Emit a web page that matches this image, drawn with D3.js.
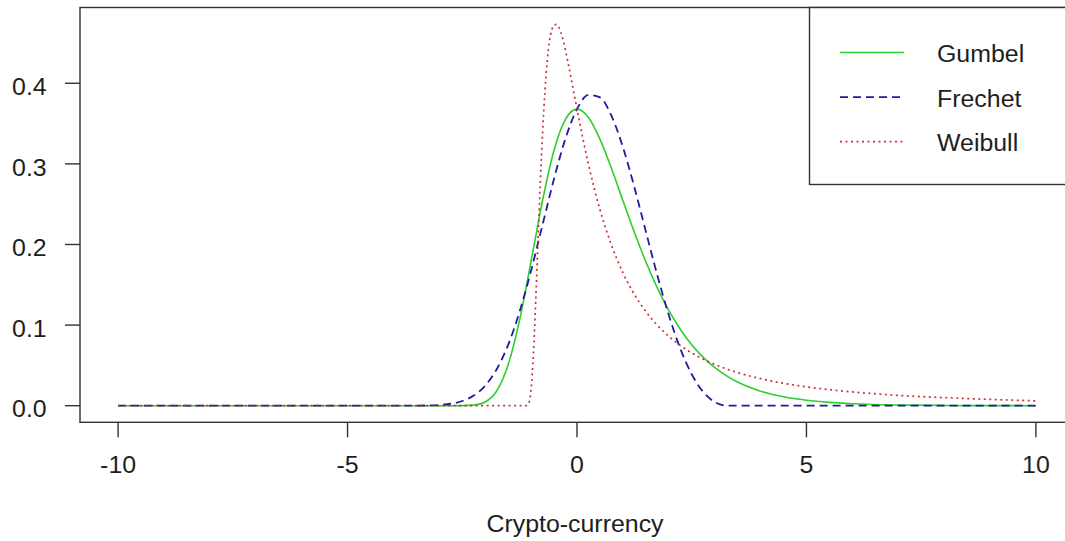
<!DOCTYPE html>
<html>
<head>
<meta charset="utf-8">
<script src="https://cdn.jsdelivr.net/npm/d3@7"></script>
<style>
  html, body { margin: 0; padding: 0; background: #fff; }
  svg { display: block; font-family: "Liberation Sans", Arial, sans-serif; }
</style>
</head>
<body>
<svg id="chart" width="1065" height="541"></svg>
<script>
// Density curves of three extreme-value fits on a common support
const gevX = [-10, -9, -8, -7, -6, -5, -4, -3.5, -3, -2.75, -2.5, -2.25, -2, -1.75, -1.5, -1.25, -1,
  -0.75, -0.5, -0.25, 0, 0.25, 0.5, 0.75, 1, 1.25, 1.5, 1.75, 2, 2.25, 2.5, 2.75, 3, 3.25, 3.5,
  4, 4.5, 5, 5.5, 6, 7, 8, 9, 10];

const gumbelY = [0, 0, 0, 0, 0, 0, 0, 0, 0, 0, 0.0001, 0.0007, 0.0046, 0.0182, 0.0507, 0.1064, 0.1794,
  0.2549, 0.3170, 0.3556, 0.3679, 0.3575, 0.3307, 0.2945, 0.2546, 0.2151, 0.1785, 0.1461, 0.1182, 0.0949,
  0.0756, 0.0600, 0.0474, 0.0373, 0.0293, 0.0180, 0.0110, 0.0067, 0.0041, 0.0025, 0.0009, 0.0003, 0.0001, 0];

const frechetY = [0, 0, 0, 0, 0, 0, 0, 0.0001, 0.0009, 0.0024, 0.0058, 0.0126, 0.0249, 0.0452, 0.0755, 0.1168, 0.1677,
  0.2246, 0.2816, 0.3316, 0.3679, 0.3856, 0.3825, 0.3598, 0.3208, 0.2711, 0.2162, 0.1619, 0.1125, 0.0709,
  0.0390, 0.0171, 0.0046, 0.0002, 0, 0, 0, 0, 0, 0, 0, 0, 0, 0];

const weibullX = [-10, -9, -8, -7, -6, -5, -4, -3, -2, -1.5, -1.25, -1.15, -1.1, -1.05, -1, -0.95, -0.9, -0.85,
  -0.8, -0.75, -0.7, -0.65, -0.6, -0.55, -0.5, -0.45, -0.4, -0.3, -0.2, -0.1, 0, 0.25, 0.5, 0.75, 1, 1.25,
  1.5, 1.75, 2, 2.25, 2.5, 2.75, 3, 3.25, 3.5, 4, 4.5, 5, 5.5, 6, 7, 8, 9, 10];

const weibullY = [0, 0, 0, 0, 0, 0, 0, 0, 0, 0, 0, 0, 0.0001, 0.0032, 0.021, 0.0644, 0.129, 0.2037,
  0.276, 0.339, 0.389, 0.4267, 0.452, 0.466, 0.472, 0.473, 0.4700, 0.453, 0.427, 0.3977, 0.3679, 0.2993, 0.2433, 0.1993, 0.165, 0.1381,
  0.1168, 0.0998, 0.0861, 0.0748, 0.0655, 0.0578, 0.0513, 0.0457, 0.0411, 0.0335, 0.0278, 0.0234, 0.0199, 0.0171, 0.0128, 0.0100, 0.0078, 0.0060];

const seriesNames = ["Gumbel", "Frechet", "Weibull"];
const xTicks = [-10, -5, 0, 5, 10];
const yTicks = [0, 0.1, 0.2, 0.3, 0.4];
const xLabel = "Crypto-currency";

const styles = {
  Gumbel:  { color: "#2ccf2c", dash: null,  width: 1.6 },
  Frechet: { color: "#1d1d9e", dash: "8,5", width: 1.8 },
  Weibull: { color: "#c93434", dash: "2,3.5", width: 1.7 }
};

const svg = d3.select("#chart");
const box = { left: 80, right: 1074, top: 7.5, bottom: 422.3 };

const x = d3.scaleLinear().domain([-10.83, 10.83]).range([box.left, box.right]);
const y = d3.scaleLinear().domain([-0.0206, 0.494]).range([box.bottom, box.top]);

const textColor = "#1e1e1e";
const fontSize = 23.5;
const stretch = 1.06; // glyphs run slightly wide

// places a text with its anchor at (px, py), widened horizontally
function label(parent, px, py, str, anchor) {
  return parent.append("text")
    .attr("transform", `translate(${px},${py}) scale(${stretch},1)`)
    .attr("text-anchor", anchor || "start")
    .attr("font-size", fontSize).attr("fill", textColor)
    .text(str);
}

// curves
const line = d3.line()
  .x(d => x(d[0]))
  .y(d => y(d[1]))
  .curve(d3.curveMonotoneX);

const data = {
  Gumbel: gevX.map((v, i) => [v, gumbelY[i]]),
  Frechet: gevX.map((v, i) => [v, frechetY[i]]),
  Weibull: weibullX.map((v, i) => [v, weibullY[i]])
};

seriesNames.forEach(name => {
  const s = styles[name];
  svg.append("path")
    .datum(data[name])
    .attr("d", line)
    .attr("fill", "none")
    .attr("stroke", s.color)
    .attr("stroke-width", s.width)
    .attr("stroke-dasharray", s.dash)
    .attr("stroke-linejoin", "round");
});

// plot frame
svg.append("rect")
  .attr("x", box.left).attr("y", box.top)
  .attr("width", box.right - box.left).attr("height", box.bottom - box.top)
  .attr("fill", "none").attr("stroke", "#333").attr("stroke-width", 1.4);

// x axis: ticks and labels only (the frame carries the axis line)
const xAxis = svg.append("g").attr("class", "x-axis");
xAxis.selectAll("line").data(xTicks).join("line")
  .attr("x1", d => x(d)).attr("x2", d => x(d))
  .attr("y1", box.bottom).attr("y2", box.bottom + 15)
  .attr("stroke", "#333").attr("stroke-width", 1.4);
xTicks.forEach(t => label(xAxis, x(t), 473.3, d3.format("d")(t).replace("\u2212", "-"), "middle"));

// y axis
const yAxis = svg.append("g").attr("class", "y-axis");
yAxis.selectAll("line").data(yTicks).join("line")
  .attr("x1", box.left - 15).attr("x2", box.left)
  .attr("y1", d => y(d)).attr("y2", d => y(d))
  .attr("stroke", "#333").attr("stroke-width", 1.4);
yTicks.forEach(t => label(yAxis, 46.7, y(t) + 11.7, d3.format(".1f")(t), "end"));

// axis title
label(svg, 575, 531.5, xLabel, "middle");

// legend
const legend = svg.append("g").attr("class", "legend");
legend.append("rect")
  .attr("x", 809.5).attr("y", box.top)
  .attr("width", box.right - 809.5).attr("height", 184.5 - box.top)
  .attr("fill", "#fff").attr("stroke", "#333").attr("stroke-width", 1.4);

const rowY = d3.scalePoint().domain(seriesNames).range([52.5, 141.7]);
seriesNames.forEach(name => {
  const s = styles[name];
  const yy = rowY(name);
  legend.append("line")
    .attr("x1", 840).attr("x2", 904)
    .attr("y1", yy).attr("y2", yy)
    .attr("stroke", s.color)
    .attr("stroke-width", s.width)
    .attr("stroke-dasharray", s.dash);
  label(legend, 937, yy + 9.5, name, "start");
});
</script>
</body>
</html>
